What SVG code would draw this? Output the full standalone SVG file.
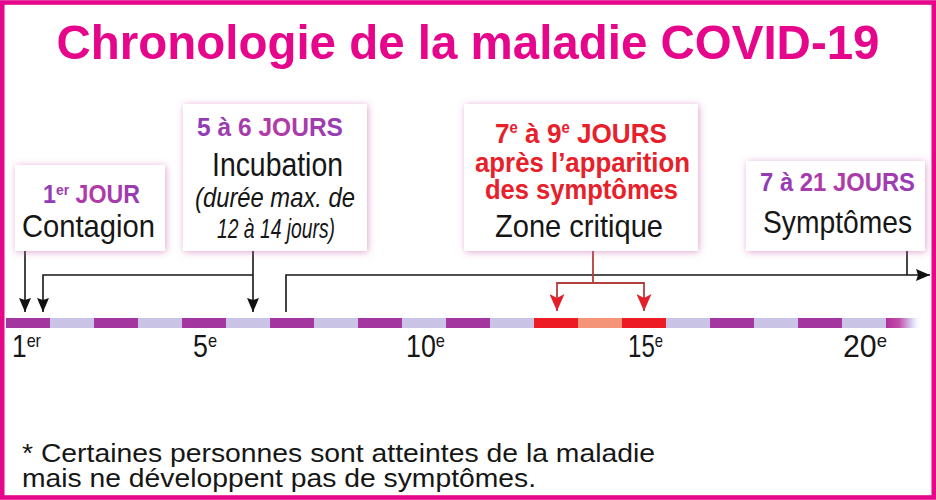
<svg xmlns="http://www.w3.org/2000/svg" width="936" height="500" viewBox="0 0 936 500">
<defs>
<style>
.hd{font-family:"Liberation Sans",Arial,sans-serif;font-weight:bold}
.tx{font-family:"Liberation Sans",Arial,sans-serif;fill:#161616}
.it{font-style:italic}
.pu{fill:url(#pg)}
.rd{fill:#e8202a}
.box{fill:#fff;filter:url(#glow)}
.ln{fill:none;stroke:#161616;stroke-width:1.6}
.rl{fill:none;stroke:#b0403c;stroke-width:1.8}
.lbl{font-family:"Liberation Sans",Arial,sans-serif;fill:#161616;font-size:31px}
.pp{fill:#a3369f}
.lt{fill:#c9c4e6}
</style>
<filter id="glow" x="-20%" y="-20%" width="140%" height="140%">
<feGaussianBlur in="SourceAlpha" stdDeviation="3.5" result="b"/>
<feOffset in="b" dx="1" dy="1" result="o"/>
<feFlood flood-color="#c85aa8" flood-opacity="0.55"/>
<feComposite in2="o" operator="in" result="s"/>
<feMerge><feMergeNode in="s"/><feMergeNode in="SourceGraphic"/></feMerge>
</filter>
<linearGradient id="pg" x1="0" y1="0" x2="1" y2="0">
<stop offset="0" stop-color="#8d3cb8"/>
<stop offset="0.5" stop-color="#b43aa4"/>
<stop offset="1" stop-color="#963cb6"/>
</linearGradient>
<linearGradient id="fade" x1="0" y1="0" x2="1" y2="0">
<stop offset="0" stop-color="#b0309e"/>
<stop offset="0.35" stop-color="#c24aa8"/>
<stop offset="0.7" stop-color="#d4ccee"/>
<stop offset="1" stop-color="#ffffff" stop-opacity="0"/>
</linearGradient>
<marker id="ab" markerUnits="userSpaceOnUse" markerWidth="14" markerHeight="12" viewBox="0 0 14 12" refX="14" refY="6" orient="auto">
<path d="M0,0 L14,6 L0,12 L2,6 z" fill="#111"/>
</marker>
<marker id="ar" markerUnits="userSpaceOnUse" markerWidth="17" markerHeight="15" viewBox="0 0 17 15" refX="17" refY="7.5" orient="auto">
<path d="M0,0 L17,7.5 L0,15 L4,7.5 z" fill="#e3202a"/>
</marker>
</defs>

<rect x="0" y="0" width="936" height="500" fill="#fff"/>
<rect x="2.2" y="2.5" width="931.6" height="495" fill="none" stroke="#e5068b" stroke-width="4.6"/>

<text id="title" class="hd" x="468" y="59" font-size="49" fill="#e5068b" text-anchor="middle" textLength="823" lengthAdjust="spacingAndGlyphs">Chronologie de la maladie COVID-19</text>

<g id="connectors">
<path class="ln" d="M25,251 V312" marker-end="url(#ab)"/>
<path class="ln" d="M253,251 V312" marker-end="url(#ab)"/>
<path class="ln" d="M253,275 H43 V312" marker-end="url(#ab)"/>
<path class="ln" d="M286,312 V275 H930" marker-end="url(#ab)"/>
<path class="ln" d="M907,251 V275"/>
<path class="rl" d="M593,251 V283"/>
<path class="rl" d="M593,283 H557 V311" marker-end="url(#ar)"/>
<path class="rl" d="M593,283 H644 V311" marker-end="url(#ar)"/>
</g>

<g id="node-contagion">
<rect class="box" x="15" y="165" width="150" height="86"/>
<text class="hd pu" x="43" y="203" font-size="25" textLength="97" lengthAdjust="spacingAndGlyphs">1<tspan font-size="15" dy="-8">er</tspan><tspan dy="8"> JOUR</tspan></text>
<text class="tx" x="22" y="237" font-size="32" textLength="133" lengthAdjust="spacingAndGlyphs">Contagion</text>
</g>

<g id="node-incubation">
<rect class="box" x="183" y="104" width="184" height="147"/>
<text class="hd pu" x="197" y="136" font-size="25" textLength="146" lengthAdjust="spacingAndGlyphs">5 à 6 JOURS</text>
<text class="tx" x="212" y="176" font-size="33" textLength="131" lengthAdjust="spacingAndGlyphs">Incubation</text>
<text class="tx it" x="195" y="207" font-size="28" textLength="160" lengthAdjust="spacingAndGlyphs">(durée max. de</text>
<text class="tx it" x="217" y="238" font-size="28" textLength="118" lengthAdjust="spacingAndGlyphs">12 à 14 jours)</text>
</g>

<g id="node-critique">
<rect class="box" x="464" y="104" width="234" height="147"/>
<text class="hd rd" x="495" y="143" font-size="28" textLength="172" lengthAdjust="spacingAndGlyphs">7<tspan font-size="16" dy="-10">e</tspan><tspan dy="10"> à 9</tspan><tspan font-size="16" dy="-10">e</tspan><tspan dy="10"> JOURS</tspan></text>
<text class="hd rd" x="475" y="172" font-size="28" textLength="215" lengthAdjust="spacingAndGlyphs">après l’apparition</text>
<text class="hd rd" x="485" y="199" font-size="28" textLength="193" lengthAdjust="spacingAndGlyphs">des symptômes</text>
<text class="tx" x="495" y="237" font-size="32" textLength="168" lengthAdjust="spacingAndGlyphs">Zone critique</text>
</g>

<g id="node-symptomes">
<rect class="box" x="746" y="161" width="179" height="90"/>
<text class="hd pu" x="760" y="191" font-size="25" textLength="155" lengthAdjust="spacingAndGlyphs">7 à 21 JOURS</text>
<text class="tx" x="763" y="233" font-size="32" textLength="149" lengthAdjust="spacingAndGlyphs">Symptômes</text>
</g>

<g id="timeline">
<rect class="lt" x="6" y="318" width="880" height="10"/>
<rect class="pp" x="6" y="318" width="44" height="10"/>
<rect class="pp" x="94" y="318" width="44" height="10"/>
<rect class="pp" x="182" y="318" width="44" height="10"/>
<rect class="pp" x="270" y="318" width="44" height="10"/>
<rect class="pp" x="358" y="318" width="44" height="10"/>
<rect class="pp" x="446" y="318" width="44" height="10"/>
<rect x="534" y="318" width="44" height="10" fill="#ed1c24"/>
<rect x="578" y="318" width="44" height="10" fill="#f4957a"/>
<rect x="622" y="318" width="44" height="10" fill="#ed1c24"/>
<rect class="pp" x="710" y="318" width="44" height="10"/>
<rect class="pp" x="798" y="318" width="44" height="10"/>
<rect x="886" y="318" width="36" height="10" fill="url(#fade)"/>
</g>

<g id="day-labels">
<text class="lbl" x="12" y="357" textLength="29" lengthAdjust="spacingAndGlyphs">1<tspan font-size="19" dy="-10">er</tspan></text>
<text class="lbl" x="193" y="357" textLength="24" lengthAdjust="spacingAndGlyphs">5<tspan font-size="19" dy="-10">e</tspan></text>
<text class="lbl" x="406" y="357" textLength="39" lengthAdjust="spacingAndGlyphs">10<tspan font-size="19" dy="-10">e</tspan></text>
<text class="lbl" x="628" y="357" textLength="35" lengthAdjust="spacingAndGlyphs">15<tspan font-size="19" dy="-10">e</tspan></text>
<text class="lbl" x="843" y="357" textLength="44" lengthAdjust="spacingAndGlyphs">20<tspan font-size="19" dy="-10">e</tspan></text>
</g>

<g id="footnote">
<text class="tx" x="22" y="462" font-size="26" textLength="633" lengthAdjust="spacingAndGlyphs">* Certaines personnes sont atteintes de la maladie</text>
<text class="tx" x="22" y="487" font-size="26" textLength="514" lengthAdjust="spacingAndGlyphs">mais ne développent pas de symptômes.</text>
</g>
</svg>
